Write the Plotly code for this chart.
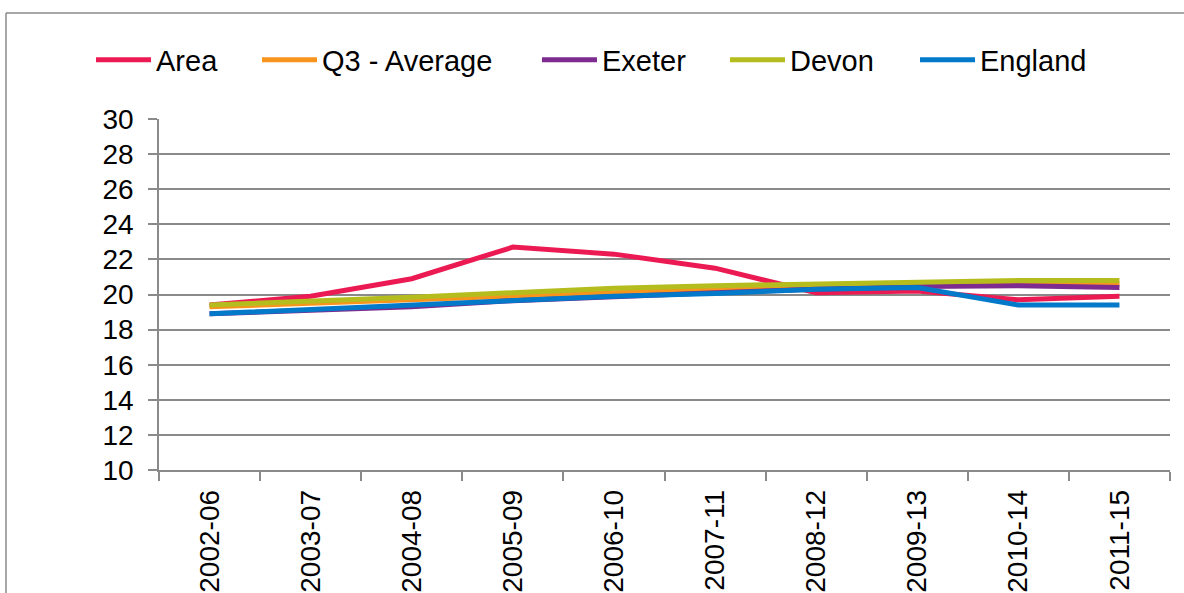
import plotly.graph_objects as go

# periods on the x axis
periods = ["2002-06", "2003-07", "2004-08", "2005-09", "2006-10",
           "2007-11", "2008-12", "2009-13", "2010-14", "2011-15"]

# series values
area = [19.4, 19.9, 20.9, 22.7, 22.3, 21.5, 20.1, 20.2, 19.7, 19.9]
q3_avg = [19.3, 19.5, 19.7, 19.95, 20.15, 20.3, 20.4, 20.5, 20.6, 20.6]
exeter = [18.9, 19.1, 19.3, 19.65, 19.9, 20.1, 20.3, 20.45, 20.5, 20.4]
devon = [19.4, 19.6, 19.85, 20.1, 20.35, 20.5, 20.6, 20.7, 20.8, 20.8]
england = [18.9, 19.15, 19.4, 19.7, 19.9, 20.05, 20.3, 20.4, 19.4, 19.4]

y_ticks = list(range(10, 31, 2))

series = [
    ("Area", area, "#EC1A52"),
    ("Q3 - Average", q3_avg, "#F7941D"),
    ("Exeter", exeter, "#7D2B8E"),
    ("Devon", devon, "#B5BD1E"),
    ("England", england, "#0379C9"),
]

# plot area in page pixels
L, R, T, B = 159, 1170, 119, 470
W, H = R - L, B - T

def px(x):
    return (x - L) / W

def py(y):
    return (B - y) / H

# left edge of each legend entry (page px)
legend_x = [91, 257, 537, 725, 915]

fig = go.Figure()
for i, (name, vals, col) in enumerate(series):
    lg = "legend" if i == 0 else "legend%d" % (i + 1)
    fig.add_trace(go.Scatter(x=periods, y=vals, name=name, mode="lines",
                             line=dict(color=col, width=5), legend=lg))

grey = "#8A8A8A"
layout_legends = {}
for i, lx in enumerate(legend_x):
    key = "legend" if i == 0 else "legend%d" % (i + 1)
    layout_legends[key] = dict(x=px(lx), xanchor="left", y=py(60), yanchor="middle",
                               font=dict(size=29), itemwidth=55,
                               bgcolor="rgba(0,0,0,0)", borderwidth=0)

fig.update_layout(
    width=1184, height=593,
    margin=dict(l=L, r=1184 - R, t=T, b=593 - B, autoexpand=False),
    paper_bgcolor="white", plot_bgcolor="white",
    font=dict(family="Liberation Sans, Arial, sans-serif", size=28, color="black"),
    showlegend=True,
    **layout_legends,
)
fig.update_xaxes(
    type="category", tickangle=-90, tickson="boundaries", automargin=False,
    ticks="outside", ticklen=9, tickcolor=grey, tickwidth=1.5,
    showline=True, linecolor=grey, linewidth=1.5,
    showgrid=False, range=[-0.5, 9.5], ticklabelstandoff=7,
)
fig.update_yaxes(
    range=[10, 30], tickvals=y_ticks, ticks="outside", ticklen=9, automargin=False,
    tickcolor=grey, tickwidth=1.5, ticklabelstandoff=9,
    showline=True, linecolor=grey, linewidth=1.5,
    showgrid=True, gridcolor=grey, gridwidth=1.5, zeroline=False,
)

# outer chart frame (left and top edges visible)
fig.add_shape(type="line", xref="paper", yref="paper",
              x0=px(6), x1=px(6), y0=-0.5, y1=py(13),
              line=dict(color=grey, width=1.5))
fig.add_shape(type="line", xref="paper", yref="paper",
              x0=px(6), x1=1.05, y0=py(13), y1=py(13),
              line=dict(color=grey, width=1.5))

fig.write_html("out.html", config={"displayModeBar": False},
               post_script="document.body.style.margin='0';")
